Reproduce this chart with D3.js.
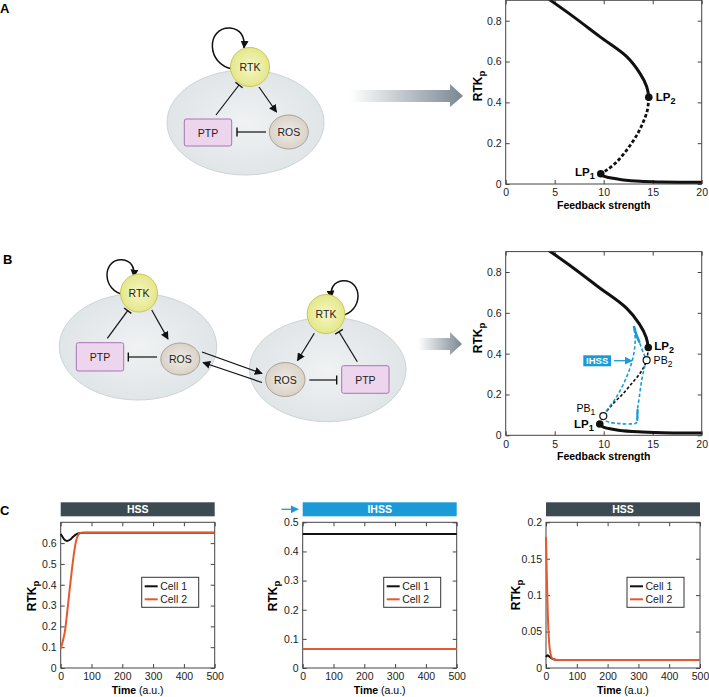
<!DOCTYPE html>
<html>
<head>
<meta charset="utf-8">
<script src="https://cdn.jsdelivr.net/npm/d3@7"></script>
<style>
  body { margin: 0; background: #fff; }
  svg { font-family: 'Liberation Sans', Arial, Helvetica, sans-serif; }
</style>
</head>
<body>
<svg id="fig" width="709" height="697"></svg>
<script>
// bifurcation diagrams (feedback strength vs RTKp)
const fbTicks = [0, 5, 10, 15, 20]
const rtkTicks = [0, 0.2, 0.4, 0.6, 0.8]

const upperStableA = [[4.5, 0.902], [6.9, 0.82], [9.6, 0.722], [12.35, 0.624], [13.7, 0.542], [14.39, 0.477], [14.6, 0.425]]
const unstableA = [[14.6, 0.425], [14.45, 0.36], [14.0, 0.3], [13.5, 0.25], [12.85, 0.2], [12.0, 0.145], [11.15, 0.1], [10.3, 0.068], [9.7, 0.05]]
const lowerStableA = [[9.7, 0.05], [9.9, 0.04], [10.5, 0.032], [11, 0.028], [12, 0.02], [13.7, 0.013], [16, 0.01], [20, 0.008]]
const limitPointsA = [[9.7, 0.05], [14.6, 0.425]]

const upperStableB = [[4.5, 0.902], [6.9, 0.82], [9.6, 0.722], [12.3, 0.624], [13.65, 0.545], [14.33, 0.48], [14.55, 0.43]]
const unstableB = [[14.55, 0.43], [14.38, 0.368], [13.8, 0.31], [12.86, 0.254], [11.9, 0.2], [10.98, 0.156], [9.96, 0.094], [9.6, 0.055]]
const lowerStableB = [[9.6, 0.055], [9.9, 0.042], [10.5, 0.033], [11.5, 0.025], [13.5, 0.017], [16, 0.013], [20, 0.011]]
const limitPointsB = [[9.6, 0.055], [14.55, 0.43]]
const branchPointsB = [[9.96, 0.094], [14.38, 0.368]]
const ihssHigh = [[9.96, 0.094], [10.13, 0.11], [11.33, 0.19], [12.35, 0.287], [13.0, 0.384], [13.22, 0.466], [13.1, 0.53], [13.35, 0.49], [13.63, 0.458], [14.0, 0.41], [14.38, 0.368]]
const ihssHighStable = [[13.1, 0.53], [13.35, 0.49], [13.63, 0.458]]
const ihssLow = [[9.96, 0.094], [10.1, 0.075], [10.5, 0.065], [11.66, 0.057], [12.8, 0.056], [13.3, 0.06], [13.43, 0.08], [13.45, 0.124], [13.64, 0.19], [13.88, 0.27], [14.2, 0.34], [14.38, 0.368]]
const ihssLowStable = [[13.43, 0.075], [13.44, 0.1], [13.46, 0.125]]

// time courses (time, RTKp)
const timeTicks = [0, 100, 200, 300, 400, 500]
const hssHighTicks = [0, 0.1, 0.2, 0.3, 0.4, 0.5, 0.6]
const ihssTicks = [0, 0.1, 0.2, 0.3, 0.4, 0.5]
const hssLowTicks = [0, 0.05, 0.1, 0.15, 0.2]

const hssHighCell1 = [[0, 0.644], [5, 0.632], [10, 0.62], [20, 0.61], [30, 0.616], [40, 0.63], [50, 0.642], [63, 0.649], [80, 0.65], [500, 0.65]]
const hssHighCell2 = [[0, 0.094], [7, 0.13], [14, 0.18], [22, 0.28], [30, 0.39], [37, 0.48], [43, 0.55], [50, 0.61], [57, 0.64], [65, 0.65], [80, 0.65], [500, 0.65]]
const ihssCell1 = [[0, 0.46], [500, 0.46]]
const ihssCell2 = [[0, 0.065], [500, 0.065]]
const hssLowCell1 = [[0, 0.015], [5, 0.0175], [10, 0.016], [20, 0.013], [30, 0.0115], [40, 0.011], [500, 0.011]]
const hssLowCell2 = [[0, 0.18], [3, 0.12], [6, 0.072], [10, 0.036], [15, 0.019], [20, 0.013], [30, 0.0112], [40, 0.011], [500, 0.011]]

const BLUE = '#1a9bd7'
const ORANGE = '#e8582a'
const SLATE = '#3c4b52'

const svg = d3.select('#fig')
const defs = svg.append('defs')

function marker (id, color) {
  defs.append('marker')
    .attr('id', id)
    .attr('viewBox', '0 0 10 10')
    .attr('refX', 9).attr('refY', 5)
    .attr('markerWidth', 8).attr('markerHeight', 8)
    .attr('markerUnits', 'userSpaceOnUse')
    .attr('orient', 'auto')
    .append('path').attr('d', 'M0,0 L10,5 L0,10 z').attr('fill', color)
}
marker('arrow', '#111')
marker('arrowBlue', BLUE)

const cellGrad = defs.append('radialGradient').attr('id', 'cellGrad')
cellGrad.append('stop').attr('offset', '0%').attr('stop-color', '#f0f2f3')
cellGrad.append('stop').attr('offset', '100%').attr('stop-color', '#e0e5e8')
const rtkGrad = defs.append('radialGradient').attr('id', 'rtkGrad')
rtkGrad.append('stop').attr('offset', '0%').attr('stop-color', '#f6f7c6')
rtkGrad.append('stop').attr('offset', '100%').attr('stop-color', '#e4e78a')
const rosGrad = defs.append('radialGradient').attr('id', 'rosGrad')
rosGrad.append('stop').attr('offset', '0%').attr('stop-color', '#efebe6')
rosGrad.append('stop').attr('offset', '100%').attr('stop-color', '#d9d2c8')
const bigArrow = defs.append('linearGradient').attr('id', 'bigArrow')
bigArrow.append('stop').attr('offset', '0%').attr('stop-color', '#ffffff')
bigArrow.append('stop').attr('offset', '100%').attr('stop-color', '#7a8792')

// ---------- diagram helpers ----------
function cell (cx, cy, rx, ry) {
  svg.append('ellipse').attr('cx', cx).attr('cy', cy).attr('rx', rx).attr('ry', ry)
    .attr('fill', 'url(#cellGrad)').attr('stroke', '#cdd3d6').attr('stroke-width', 1)
}

function node (name, cx, cy, rx, ry) {
  const fill = name === 'RTK' ? 'url(#rtkGrad)' : 'url(#rosGrad)'
  const stroke = name === 'RTK' ? '#c5c85a' : '#a9a297'
  svg.append('ellipse').attr('cx', cx).attr('cy', cy).attr('rx', rx).attr('ry', ry)
    .attr('fill', fill).attr('stroke', stroke).attr('stroke-width', 1)
  svg.append('text').attr('x', cx).attr('y', cy + 4).attr('text-anchor', 'middle')
    .attr('font-size', 10.5).attr('fill', '#222').text(name)
}

function ptp (x, y, w, h) {
  svg.append('rect').attr('x', x).attr('y', y).attr('width', w).attr('height', h).attr('rx', 2)
    .attr('fill', '#edd5ee').attr('stroke', '#a776b0').attr('stroke-width', 1)
  svg.append('text').attr('x', x + w / 2).attr('y', y + h / 2 + 4).attr('text-anchor', 'middle')
    .attr('font-size', 10.5).attr('fill', '#222').text('PTP')
}

function activate (x1, y1, x2, y2) {
  svg.append('line').attr('x1', x1).attr('y1', y1).attr('x2', x2).attr('y2', y2)
    .attr('stroke', '#111').attr('stroke-width', 1.2).attr('marker-end', 'url(#arrow)')
}

function inhibit (x1, y1, x2, y2) {
  svg.append('line').attr('x1', x1).attr('y1', y1).attr('x2', x2).attr('y2', y2)
    .attr('stroke', '#111').attr('stroke-width', 1.2)
  const a = Math.atan2(y2 - y1, x2 - x1) + Math.PI / 2
  const h = 4.5
  svg.append('line')
    .attr('x1', x2 + h * Math.cos(a)).attr('y1', y2 + h * Math.sin(a))
    .attr('x2', x2 - h * Math.cos(a)).attr('y2', y2 - h * Math.sin(a))
    .attr('stroke', '#111').attr('stroke-width', 1.4)
}

// self activation loop on RTK; dir 1 loops to the left, -1 to the right
function selfLoop (cx, cy, dir, s) {
  const p = (dx, dy) => (cx + dir * dx * s) + ',' + (cy + dy * s)
  svg.append('path')
    .attr('d', 'M' + p(-17, 2) + ' C' + p(-44, -2) + ' ' + p(-44, -40) + ' ' + p(-20, -39) +
      ' C' + p(-10, -38) + ' ' + p(-5, -31) + ' ' + p(-6, -19))
    .attr('fill', 'none').attr('stroke', '#111').attr('stroke-width', 1.5)
    .attr('marker-end', 'url(#arrow)')
}

function grayArrow (x0, x1, y, tip) {
  svg.append('path')
    .attr('d', `M${x0},${y - 6} L${x1},${y - 6} L${x1},${y - 12} L${tip},${y} L${x1},${y + 11} L${x1},${y + 6} L${x0},${y + 6} Z`)
    .attr('fill', 'url(#bigArrow)')
}

function panelLabel (t, x, y) {
  svg.append('text').attr('x', x).attr('y', y).attr('font-size', 13).attr('font-weight', 'bold').text(t)
}

function yLabel (x, y) {
  const t = svg.append('text').attr('transform', `translate(${x},${y}) rotate(-90)`)
    .attr('text-anchor', 'middle').attr('font-weight', 'bold').attr('font-size', 12)
  t.append('tspan').text('RTK')
  t.append('tspan').attr('dy', 3).attr('font-size', 9.5).text('p')
}

function subLabel (g, x, y, base, sub, bold, anchor) {
  const t = g.append('text').attr('x', x).attr('y', y).attr('font-size', bold ? 11.5 : 10.5)
    .attr('font-weight', bold ? 'bold' : 'normal').attr('text-anchor', anchor || 'start')
  t.append('tspan').text(base)
  t.append('tspan').attr('dy', 3).attr('font-size', bold ? 9 : 8.5).text(sub)
}

// ---------- axes box with inward ticks (all sides) ----------
function frame (g, x, y, width, height, xTicks, yTicks) {
  g.append('g').attr('transform', `translate(0,${height})`)
    .call(d3.axisBottom(x).tickValues(xTicks).tickSizeInner(-4).tickSizeOuter(0).tickPadding(5).tickFormat(d3.format('')))
  g.append('g')
    .call(d3.axisTop(x).tickValues(xTicks).tickSizeInner(-4).tickSizeOuter(0).tickFormat(''))
  g.append('g')
    .call(d3.axisLeft(y).tickValues(yTicks).tickSizeInner(-4).tickSizeOuter(0).tickPadding(4).tickFormat(d3.format('')))
  g.append('g').attr('transform', `translate(${width},0)`)
    .call(d3.axisRight(y).tickValues(yTicks).tickSizeInner(-4).tickSizeOuter(0).tickFormat(''))
  g.selectAll('.domain').remove()
  g.selectAll('.tick line').attr('stroke', '#444')
  g.selectAll('.tick text').attr('font-size', 10.5).attr('fill', '#222')
    .attr('font-family', "'Liberation Sans', Arial, Helvetica, sans-serif")
  g.append('rect').attr('width', width).attr('height', height)
    .attr('fill', 'none').attr('stroke', '#444').attr('stroke-width', 1)
}

// ---------- bifurcation plot ----------
function bifurcation (id, top, curves) {
  const width = 196
  const height = 183.7
  const g = svg.append('g').attr('transform', `translate(505.7,${top})`)
  const x = d3.scaleLinear().domain([0, 20]).range([0, width])
  const y = d3.scaleLinear().domain([0, 0.9]).range([height, 0])

  defs.append('clipPath').attr('id', id).append('rect').attr('width', width).attr('height', height)
  frame(g, x, y, width, height, fbTicks, rtkTicks)

  const line = d3.line().x(d => x(d[0])).y(d => y(d[1])).curve(d3.curveCatmullRom.alpha(0.5))
  const plot = g.append('g').attr('clip-path', `url(#${id})`)
  curves.forEach(c => {
    plot.append('path').datum(c.data).attr('d', line)
      .attr('fill', 'none').attr('stroke', c.color).attr('stroke-width', c.width)
      .attr('stroke-dasharray', c.dash || null).attr('stroke-linecap', c.dash ? 'butt' : 'round')
  })

  g.append('text').attr('x', width / 2).attr('y', height + 25).attr('text-anchor', 'middle')
    .attr('font-size', 10.5).attr('font-weight', 'bold').text('Feedback strength')

  return { g, x, y }
}

// ---------- time course plot ----------
function timeCourse (left, yMax, yTicks, c1, c2, barText, barColor) {
  const width = 154
  const height = 145.7
  const top = 522.3
  const g = svg.append('g').attr('transform', `translate(${left},${top})`)
  const x = d3.scaleLinear().domain([0, 500]).range([0, width])
  const y = d3.scaleLinear().domain([0, yMax]).range([height, 0])

  g.append('rect').attr('x', 0).attr('y', -20).attr('width', width).attr('height', 14).attr('fill', barColor)
  g.append('text').attr('x', width / 2).attr('y', -9).attr('text-anchor', 'middle')
    .attr('font-size', 10.5).attr('font-weight', 'bold').attr('fill', '#fff').text(barText)

  frame(g, x, y, width, height, timeTicks, yTicks)

  const line = d3.line().x(d => x(d[0])).y(d => y(d[1])).curve(d3.curveMonotoneX)
  g.append('path').datum(c1).attr('d', line).attr('fill', 'none').attr('stroke', '#111').attr('stroke-width', 2)
  g.append('path').datum(c2).attr('d', line).attr('fill', 'none').attr('stroke', ORANGE).attr('stroke-width', 2)

  const lg = g.append('g').attr('transform', 'translate(81,55)')
  lg.append('rect').attr('width', 57).attr('height', 30).attr('fill', '#fff').attr('stroke', '#333').attr('stroke-width', 1)
  const entries = [['Cell 1', '#111'], ['Cell 2', ORANGE]]
  entries.forEach((e, i) => {
    lg.append('line').attr('x1', 3).attr('x2', 16).attr('y1', 9 + i * 13).attr('y2', 9 + i * 13)
      .attr('stroke', e[1]).attr('stroke-width', 2)
    lg.append('text').attr('x', 18.5).attr('y', 13 + i * 13).attr('font-size', 10.5).attr('fill', '#222').text(e[0])
  })

  const tl = g.append('text').attr('x', width / 2).attr('y', height + 26).attr('text-anchor', 'middle').attr('font-size', 10.5)
  tl.append('tspan').attr('font-weight', 'bold').text('Time')
  tl.append('tspan').text(' (a.u.)')
}

// ================= Panel A =================
panelLabel('A', 0, 13)
cell(245.5, 122.5, 78.5, 52.5)
selfLoop(250, 67, 1, 1)
node('RTK', 250, 67, 19.5, 19.5)
ptp(184.3, 119, 47.4, 27)
node('ROS', 288.8, 132, 19.5, 17)
activate(259, 87, 276.5, 112)
inhibit(216, 115, 239, 85)
inhibit(266, 132, 237, 132)
grayArrow(350, 450, 96, 463)

const bifA = bifurcation('clipA', 0.3, [
  { data: upperStableA, color: '#111', width: 3 },
  { data: unstableA, color: '#111', width: 2.8, dash: '3.5,2.2' },
  { data: lowerStableA, color: '#111', width: 3 }
])
bifA.g.selectAll('.lp').data(limitPointsA).join('circle')
  .attr('cx', d => bifA.x(d[0])).attr('cy', d => bifA.y(d[1])).attr('r', 3.8).attr('fill', '#111')
subLabel(bifA.g, bifA.x(limitPointsA[0][0]) - 6, bifA.y(limitPointsA[0][1]) + 2, 'LP', '1', true, 'end')
subLabel(bifA.g, bifA.x(limitPointsA[1][0]) + 7, bifA.y(limitPointsA[1][1]) + 4, 'LP', '2', true, 'start')
yLabel(482, 86)

// ================= Panel B =================
panelLabel('B', 3, 264)
cell(138, 346.7, 78.7, 53.3)
cell(327.7, 369.5, 78.3, 52.2)
selfLoop(139, 293, 1, 0.85)
node('RTK', 139, 293, 18.5, 19)
ptp(76.3, 342.7, 47.4, 28.3)
node('ROS', 180.3, 359, 19.5, 16)
activate(151.7, 310, 168, 339)
inhibit(107.3, 338.3, 127.7, 310.7)
inhibit(157, 357, 128.3, 357)

selfLoop(326, 314, -1, 0.85)
node('RTK', 326, 314, 18.8, 19.5)
node('ROS', 285.3, 379.5, 19.7, 17)
ptp(341.7, 365.7, 47.3, 27.6)
activate(314.3, 333.3, 297.5, 360.5)
inhibit(357.3, 361.7, 339, 331.7)
inhibit(309.3, 380, 336.7, 380)
activate(202, 352, 262, 373.5)
activate(262, 382.5, 203, 362.5)
grayArrow(418, 450, 344, 462)

const bifB = bifurcation('clipB', 251.6, [
  { data: upperStableB, color: '#111', width: 3 },
  { data: lowerStableB, color: '#111', width: 3 },
  { data: unstableB, color: '#111', width: 1.6, dash: '3,2' },
  { data: ihssHigh, color: BLUE, width: 1.6, dash: '3.5,2.2' },
  { data: ihssLow, color: BLUE, width: 1.6, dash: '3.5,2.2' },
  { data: ihssHighStable, color: BLUE, width: 2.6 },
  { data: ihssLowStable, color: BLUE, width: 2.2 }
])
bifB.g.selectAll('.lp').data(limitPointsB).join('circle')
  .attr('cx', d => bifB.x(d[0])).attr('cy', d => bifB.y(d[1])).attr('r', 3.8).attr('fill', '#111')
bifB.g.selectAll('.pb').data(branchPointsB).join('circle')
  .attr('cx', d => bifB.x(d[0])).attr('cy', d => bifB.y(d[1])).attr('r', 3.5)
  .attr('fill', '#fff').attr('stroke', '#111').attr('stroke-width', 1.2)
subLabel(bifB.g, bifB.x(limitPointsB[0][0]) - 6, bifB.y(limitPointsB[0][1]) + 4, 'LP', '1', true, 'end')
subLabel(bifB.g, bifB.x(limitPointsB[1][0]) + 6, bifB.y(limitPointsB[1][1]) + 2, 'LP', '2', true, 'start')
subLabel(bifB.g, bifB.x(branchPointsB[0][0]) - 8, bifB.y(branchPointsB[0][1]) - 4, 'PB', '1', false, 'end')
subLabel(bifB.g, bifB.x(branchPointsB[1][0]) + 7, bifB.y(branchPointsB[1][1]) + 4, 'PB', '2', false, 'start')
yLabel(482, 338)

// IHSS tag with arrow
svg.append('rect').attr('x', 583.3).attr('y', 355.3).attr('width', 27.7).attr('height', 11).attr('fill', BLUE)
svg.append('text').attr('x', 597.2).attr('y', 364.2).attr('text-anchor', 'middle').attr('font-size', 9.5)
  .attr('font-weight', 'bold').attr('fill', '#fff').text('IHSS')
svg.append('line').attr('x1', 614).attr('x2', 632).attr('y1', 360.7).attr('y2', 360.7)
  .attr('stroke', BLUE).attr('stroke-width', 1.3).attr('marker-end', 'url(#arrowBlue)')

// ================= Panel C =================
panelLabel('C', 0, 515)
timeCourse(60.7, 0.7, hssHighTicks, hssHighCell1, hssHighCell2, 'HSS', SLATE)
timeCourse(302.7, 0.5, ihssTicks, ihssCell1, ihssCell2, 'IHSS', BLUE)
timeCourse(546, 0.2, hssLowTicks, hssLowCell1, hssLowCell2, 'HSS', SLATE)
yLabel(36, 596)
yLabel(277, 596)
yLabel(520, 595)
svg.append('line').attr('x1', 281.5).attr('x2', 298).attr('y1', 509.3).attr('y2', 509.3)
  .attr('stroke', BLUE).attr('stroke-width', 1.3).attr('marker-end', 'url(#arrowBlue)')
</script>
</body>
</html>
